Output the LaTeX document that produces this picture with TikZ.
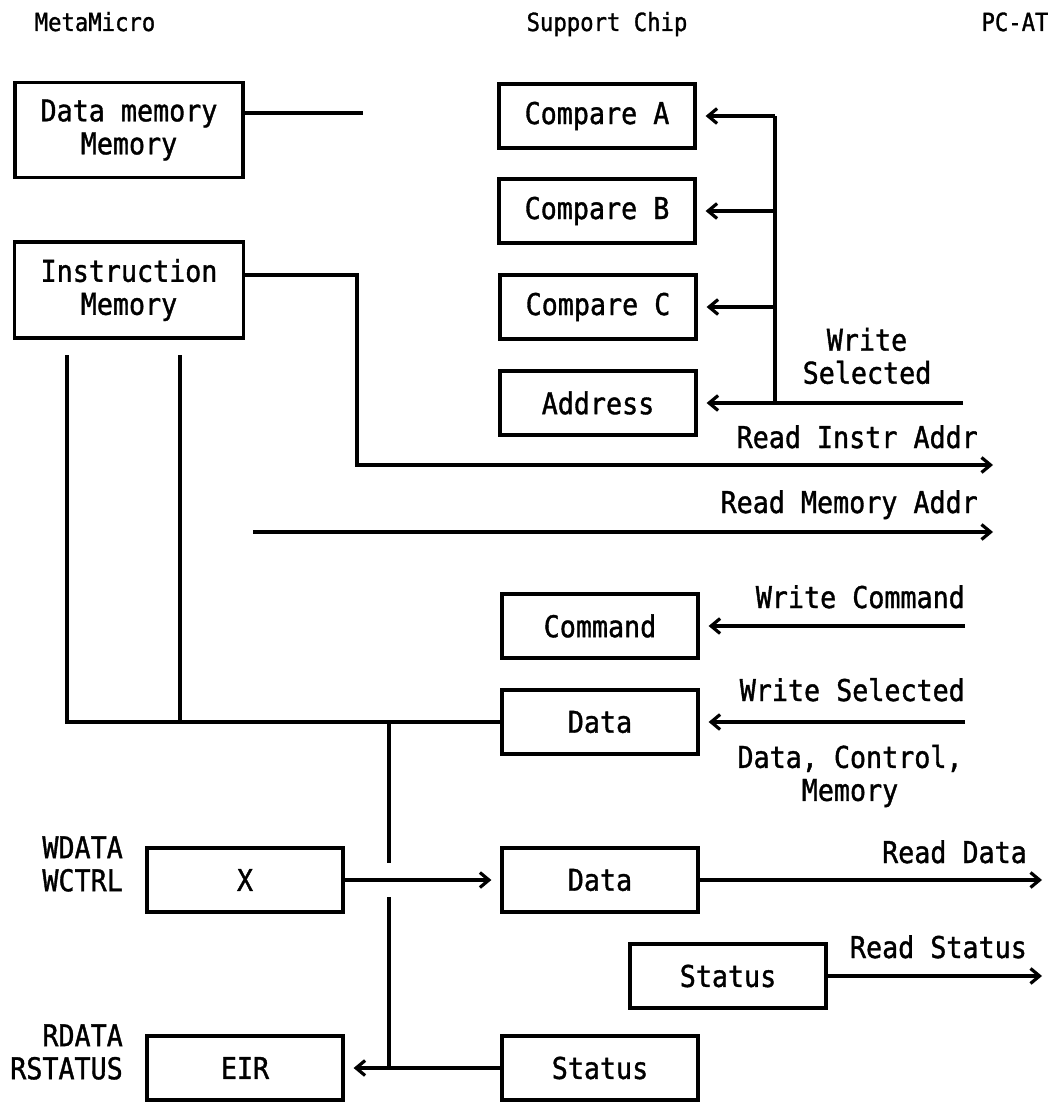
\documentclass[tikz,border=0pt]{standalone}
\usepackage{fontspec}
\usepackage{tikz}
\usetikzlibrary{arrows.meta, positioning}
\newfontfamily\diagfont[FakeStretch=0.89, FakeBold=1.2]{DejaVu Sans Mono}

\begin{document}
\begin{tikzpicture}[
  x=1pt, y=-1pt,
  wire/.style={line width=3.2pt},
  box/.style={draw, wire, minimum width=196pt, minimum height=64pt, inner sep=0pt, align=center, font=\diagfont\fontsize{30}{33}\selectfont},
  lbl/.style={inner sep=0pt, align=center, font=\diagfont\fontsize{30}{33}\selectfont},
  hdr/.style={inner sep=0pt, font=\diagfont\fontsize{25}{28}\selectfont},
  arr/.style={wire, -{Straight Barb[length=9pt, width=15pt]}},
  into/.style={arr, shorten >=9pt}
]
\useasboundingbox (0,0) rectangle (1048,1102);

\node[hdr, anchor=base] (hMM) at (95,31) {MetaMicro};
\node[hdr, anchor=base] (hSC) at (607,31) {Support Chip};
\node[hdr, anchor=base] (hPC) at (1015,31) {PC-AT};

\node[box, minimum width=228pt, minimum height=95pt] (dmem) at (129,130) {Data memory\\Memory};
\node[box, minimum width=229pt, minimum height=96pt] (imem) at (129,290) {Instruction\\Memory};
\node[box] (cmpA) at (597,116) {Compare A};
\node[box] (cmpB) at (597,211) {Compare B};
\node[box] (cmpC) at (598,307) {Compare C};
\node[box] (addr) at (598,403) {Address};
\node[box] (cmd) at (600,626) {Command};
\node[box] (datw) at (600,722) {Data};
\node[box] (xreg) at (245,880) {X};
\node[box] (datr) at (600,880) {Data};
\node[box] (statr) at (728,976) {Status};
\node[box] (eir) at (245,1068) {EIR};
\node[box] (stat) at (600,1068) {Status};

\node[lbl] (wsel) at (867,356) {Write\\Selected};
\node[lbl, anchor=base east] (ria) at (978,448) {Read Instr Addr};
\node[lbl, anchor=base east] (rma) at (978,513) {Read Memory Addr};
\node[lbl, anchor=base east] (wcmd) at (965,608) {Write Command};
\node[lbl, anchor=base east] (wsel2) at (965,701) {Write Selected};
\node[lbl] (dcm) at (850,776) {Data, Control,\\Memory};
\node[lbl, anchor=base east] (rdat) at (1027,863) {Read Data};
\node[lbl, anchor=base east] (rsta) at (1027,958) {Read Status};
\node[lbl, align=right, anchor=east] (wlbl) at (123,864) {WDATA\\WCTRL};
\node[lbl, align=right, anchor=east] (rlbl) at (123,1052) {RDATA\\RSTATUS};

\coordinate (dmEnd) at (363,113);
\draw[wire] (dmem.east |- dmEnd) -- (dmEnd);
\coordinate (iaBend) at (357,465);
\coordinate (iaOut) at (993,465);
\draw[arr] (imem.east |- 0,275) -| (iaBend) -- (iaOut);
\coordinate (maIn) at (253,532);
\coordinate (maOut) at (993,532);
\draw[arr] (maIn) -- (maOut);

\coordinate (wsIn) at (963,403);
\coordinate (wsBus) at (775,403);
\draw[wire] (wsBus) -- (wsBus |- cmpA.east);
\draw[into] (wsIn) -- (addr.east);
\foreach \c in {cmpA,cmpB,cmpC}
  \draw[into] (wsBus |- \c.east) -- (\c.east);

\coordinate (wcIn) at (965,626);
\draw[into] (wcIn) -- (cmd.east);
\coordinate (wdIn) at (965,722);
\draw[into] (wdIn) -- (datw.east);

\coordinate (lvA) at (67,355);
\coordinate (lvB) at (180,355);
\draw[wire] (lvA) |- (datw.west);
\draw[wire] (lvB) -- (lvB |- datw.west);
\coordinate (jTop) at (389,722);
\coordinate (gapA) at (389,863);
\coordinate (gapB) at (389,897);
\coordinate (jBot) at (389,1068);
\draw[wire] (jTop) -- (gapA);
\draw[wire] (gapB) -- (jBot);
\draw[into] (xreg.east) -- (datr.west);
\draw[into] (stat.west) -- (eir.east);
\coordinate (rdOut) at (1042,880);
\draw[arr] (datr.east) -- (rdOut);
\coordinate (rsOut) at (1042,976);
\draw[arr] (statr.east) -- (rsOut);
\end{tikzpicture}
\end{document}
